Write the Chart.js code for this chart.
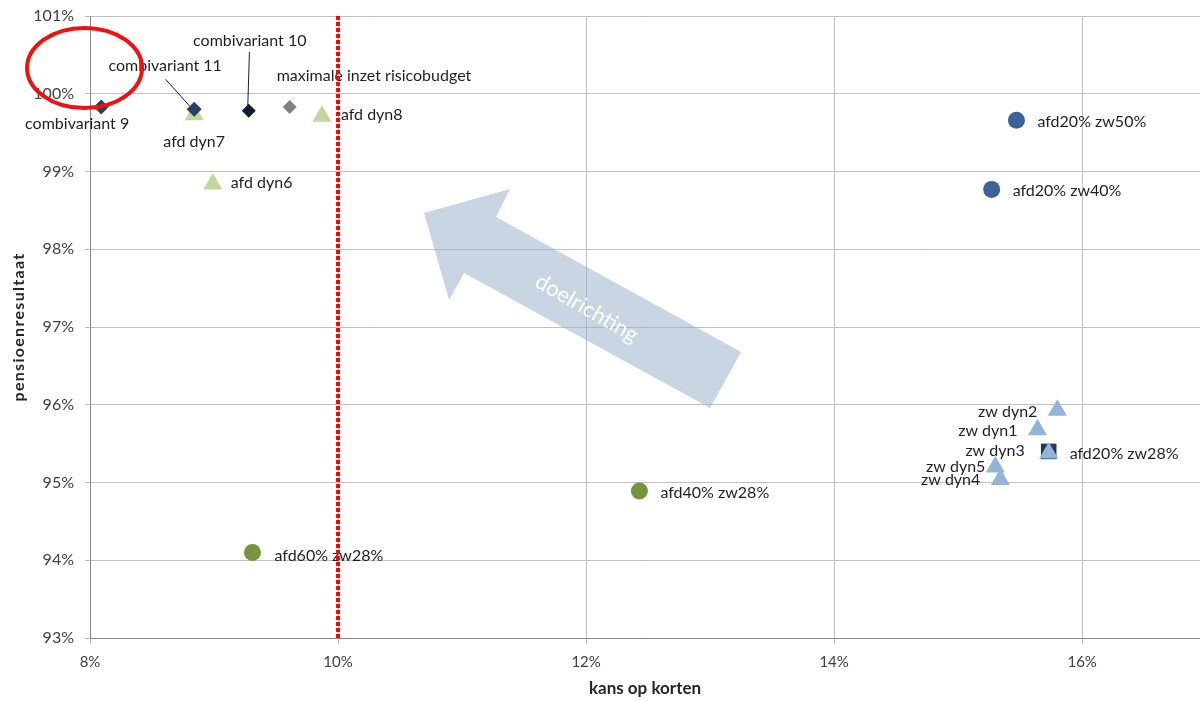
<!DOCTYPE html>
<html><head><meta charset="utf-8">
<script src="https://cdn.jsdelivr.net/npm/chart.js@4"></script>
<style>html,body{margin:0;padding:0;background:#fff;overflow:hidden}</style>
</head><body>
<canvas id="c" width="1200" height="701"></canvas>
<script>
// ---- tick labels ----
const xTicks = [8, 10, 12, 14, 16];
const yTicks = [93, 94, 95, 96, 97, 98, 99, 100, 101];
const xTitle = 'kans op korten';
const yTitle = 'pensioenresultaat';

// ---- series (x = kans op korten %, y = pensioenresultaat %) ----
const combiNames = ['combivariant 9', 'combivariant 11'];
const combiX = [8.09, 8.84];
const combiY = [99.83, 99.80];

const combi10Names = ['combivariant 10'];
const combi10X = [9.28];
const combi10Y = [99.78];

const maxRiskNames = ['maximale inzet risicobudget'];
const maxRiskX = [9.61];
const maxRiskY = [99.83];

const afdDynNames = ['afd dyn6', 'afd dyn7', 'afd dyn8'];
const afdDynX = [8.99, 8.84, 9.87];
const afdDynY = [98.84, 99.73, 99.71];

const zwDynNames = ['zw dyn1', 'zw dyn2', 'zw dyn3', 'zw dyn4', 'zw dyn5'];
const zwDynX = [15.64, 15.80, 15.73, 15.34, 15.30];
const zwDynY = [95.68, 95.93, 95.38, 95.04, 95.20];

const afd20Names = ['afd20% zw50%', 'afd20% zw40%'];
const afd20X = [15.47, 15.27];
const afd20Y = [99.66, 98.77];

const afd28Names = ['afd20% zw28%'];
const afd28X = [15.73];
const afd28Y = [95.40];

const afdGreenNames = ['afd40% zw28%', 'afd60% zw28%'];
const afdGreenX = [12.43, 9.31];
const afdGreenY = [94.89, 94.10];

const targetX = 10;            // grens kans op korten
const arrowText = 'doelrichting';

// ---- annotation geometry (data units) ----
const arrowPath = [[10.694, 98.466], [11.387, 98.775], [11.274, 98.415], [13.250, 96.678],
                   [13.000, 95.958], [11.016, 97.695], [10.895, 97.347]];
const arrowTextPos = [12.006, 97.24];
const ellipsePos = [7.956, 100.331];

// ---- label placement (pixels relative to point) ----
const labelStyle = {
  'combivariant 9': {dx: -24, dy: 17, align: 'center'},
  'combivariant 11': {dx: -29, dy: -43, align: 'center', leader: [[-28.6, -30], [-4.3, -3]]},
  'combivariant 10': {dx: 1, dy: -70, align: 'center', leader: [[0.7, -59], [-1, -3.4]]},
  'maximale inzet risicobudget': {dx: -13, dy: -31, align: 'left'},
  'afd dyn6': {dx: 18, dy: -1, align: 'left'},
  'afd dyn7': {dx: 0, dy: 27, align: 'center'},
  'afd dyn8': {dx: 19, dy: -1, align: 'left'},
  'zw dyn1': {dx: -20, dy: 1, align: 'right'},
  'zw dyn2': {dx: -20, dy: 2, align: 'right'},
  'zw dyn3': {dx: -24, dy: -2, align: 'right'},
  'zw dyn4': {dx: -20, dy: 0, align: 'right'},
  'zw dyn5': {dx: -10, dy: 0, align: 'right'},
  'afd20% zw50%': {dx: 21, dy: 2, align: 'left'},
  'afd20% zw40%': {dx: 21, dy: 1, align: 'left'},
  'afd20% zw28%': {dx: 21, dy: 2, align: 'left'},
  'afd40% zw28%': {dx: 21, dy: 2, align: 'left'},
  'afd60% zw28%': {dx: 22, dy: 3, align: 'left'}
};

const FONT = 'Lato, "Open Sans", sans-serif';
const pts = (xs, ys) => xs.map((x, i) => ({x: x, y: ys[i]}));

const datasets = [
  {names: combiNames, data: pts(combiX, combiY), pointStyle: 'rectRot', pointRadius: 7.5, backgroundColor: '#263F63'},
  {names: combi10Names, data: pts(combi10X, combi10Y), pointStyle: 'rectRot', pointRadius: 7, backgroundColor: '#0F1D33'},
  {names: maxRiskNames, data: pts(maxRiskX, maxRiskY), pointStyle: 'rectRot', pointRadius: 7, backgroundColor: '#808080'},
  {names: afdDynNames, data: pts(afdDynX, afdDynY), pointStyle: 'triangle', pointRadius: 11, backgroundColor: '#C3D69B'},
  {names: zwDynNames, data: pts(zwDynX, zwDynY), pointStyle: 'triangle', pointRadius: 11, backgroundColor: '#95B3D7'},
  {names: afd28Names, data: pts(afd28X, afd28Y), pointStyle: 'rect', pointRadius: 11, backgroundColor: '#203A5E'},
  {names: afd20Names, data: pts(afd20X, afd20Y), pointStyle: 'circle', pointRadius: 8.5, backgroundColor: '#3A6398'},
  {names: afdGreenNames, data: pts(afdGreenX, afdGreenY), pointStyle: 'circle', pointRadius: 8.5, backgroundColor: '#77933C'}
].map(d => Object.assign(d, {borderWidth: 0, pointHoverRadius: d.pointRadius, showLine: false}));

const overlay = {
  id: 'overlay',
  beforeDatasetsDraw(chart) {
    const {ctx, scales: {x, y}} = chart;
    ctx.save();
    ctx.beginPath();
    arrowPath.forEach((p, i) => {
      const px = x.getPixelForValue(p[0]), py = y.getPixelForValue(p[1]);
      if (i === 0) ctx.moveTo(px, py); else ctx.lineTo(px, py);
    });
    ctx.closePath();
    ctx.fillStyle = 'rgba(150,172,200,0.5)';
    ctx.fill();
    ctx.translate(x.getPixelForValue(arrowTextPos[0]), y.getPixelForValue(arrowTextPos[1]));
    ctx.rotate(30 * Math.PI / 180);
    ctx.fillStyle = '#ffffff';
    ctx.font = '22px ' + FONT;
    ctx.textAlign = 'center';
    ctx.textBaseline = 'middle';
    ctx.fillText(arrowText, 0, 0);
    ctx.restore();
  },
  afterDatasetsDraw(chart) {
    const {ctx, chartArea, scales: {x, y}} = chart;
    ctx.save();
    ctx.font = '16px ' + FONT;
    ctx.fillStyle = '#1E1E28';
    ctx.textBaseline = 'middle';
    chart.data.datasets.forEach((ds, di) => {
      const meta = chart.getDatasetMeta(di);
      ds.names.forEach((name, i) => {
        const el = meta.data[i];
        const st = labelStyle[name];
        if (!st) return;
        ctx.textAlign = st.align;
        ctx.fillText(name, el.x + st.dx, el.y + st.dy);
        if (st.leader) {
          ctx.beginPath();
          ctx.moveTo(el.x + st.leader[0][0], el.y + st.leader[0][1]);
          ctx.lineTo(el.x + st.leader[1][0], el.y + st.leader[1][1]);
          ctx.strokeStyle = '#1E1E28';
          ctx.lineWidth = 1;
          ctx.stroke();
        }
      });
    });
    // axis titles
    ctx.fillStyle = '#262626';
    ctx.font = 'bold 17px ' + FONT;
    ctx.textAlign = 'center';
    ctx.fillText(xTitle, (chartArea.left + chartArea.right) / 2, 689);
    ctx.save();
    ctx.translate(19, (chartArea.top + chartArea.bottom) / 2);
    ctx.rotate(-Math.PI / 2);
    ctx.font = 'bold 16px ' + FONT;
    ctx.letterSpacing = '1.3px';
    ctx.fillText(yTitle, 0, 0);
    ctx.restore();
    // red dotted target line
    const tx = x.getPixelForValue(targetX);
    ctx.beginPath();
    ctx.setLineDash([4, 2]);
    ctx.moveTo(tx, chartArea.top);
    ctx.lineTo(tx, chartArea.bottom);
    ctx.strokeStyle = '#FF0000';
    ctx.lineWidth = 4;
    ctx.stroke();
    ctx.setLineDash([]);
    // red ellipse
    ctx.beginPath();
    ctx.ellipse(x.getPixelForValue(ellipsePos[0]), y.getPixelForValue(ellipsePos[1]), 57.5, 40, 0, 0, Math.PI * 2);
    ctx.strokeStyle = '#F01010';
    ctx.lineWidth = 4;
    ctx.stroke();
    ctx.restore();
  }
};

const noPad = s => { s.paddingTop = 0; s.paddingBottom = 0; s.paddingLeft = 0; s.paddingRight = 0; };

new Chart(document.getElementById('c'), {
  type: 'scatter',
  data: {datasets: datasets},
  plugins: [overlay],
  options: {
    responsive: false,
    animation: false,
    layout: {autoPadding: false, padding: {top: 16, right: 0, left: 0, bottom: 0}},
    plugins: {legend: {display: false}, tooltip: {enabled: false}},
    scales: {
      x: {
        type: 'linear', min: 8, max: 16.95,
        afterBuildTicks: s => { s.ticks = xTicks.map(v => ({value: v})); },
        afterFit: s => { s.height = 63; noPad(s); },
        grid: {color: '#C0C0C0', lineWidth: 1, tickLength: 6, drawTicks: true},
        border: {color: '#868686', width: 1},
        ticks: {padding: 9, color: '#404040', font: {family: FONT, size: 15}, callback: v => v + '%'},
        title: {display: false}
      },
      y: {
        type: 'linear', min: 93, max: 101,
        afterBuildTicks: s => { s.ticks = yTicks.map(v => ({value: v})); },
        afterFit: s => { s.width = 90; noPad(s); },
        grid: {color: '#C0C0C0', lineWidth: 1, tickLength: 5, drawTicks: true},
        border: {color: '#868686', width: 1},
        ticks: {padding: 11, color: '#404040', font: {family: FONT, size: 16}, callback: v => v + '%'},
        title: {display: false}
      }
    }
  }
});
</script>
</body></html>
